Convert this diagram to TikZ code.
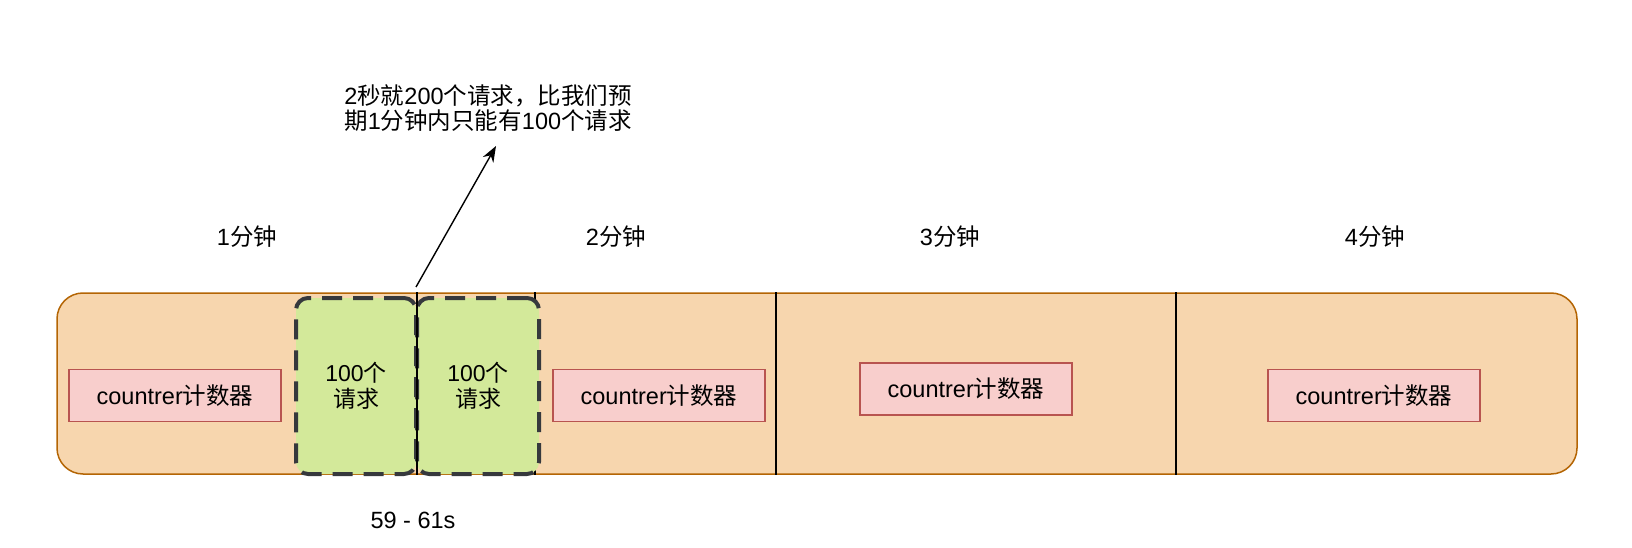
\documentclass[tikz,border=0pt]{standalone}
\usepackage{fontspec}
\setmainfont{Liberation Sans}
\newfontfamily\cjk{Noto Sans CJK SC}
\usetikzlibrary{arrows.meta}
\definecolor{bigfill}{HTML}{F7D6AE}
\definecolor{bigline}{HTML}{B46504}
\definecolor{cntfill}{HTML}{F8CECC}
\definecolor{cntline}{HTML}{B85450}
\definecolor{grnfill}{HTML}{D3E99A}
\definecolor{grnline}{HTML}{36393D}
\tikzset{
  bigbox/.style={draw=bigline, fill=bigfill, line width=1.5pt, rounded corners=26pt, minimum width=1520pt, minimum height=181pt, inner sep=0pt},
  cntbox/.style={draw=cntline, fill=cntfill, line width=1.3pt, minimum width=212pt, minimum height=52pt, inner sep=0pt, font=\fontsize{23.5pt}{27pt}\selectfont},
  reqbox/.style={draw=grnline, fill=grnfill, line width=4pt, dash pattern=on 20pt off 11pt, rounded corners=12pt, minimum height=176pt, inner sep=0pt, align=center, font=\fontsize{23pt}{26pt}\selectfont},
  divider/.style={draw=black, line width=1.3pt},
  lbl/.style={inner sep=0pt, align=center, font=\fontsize{23.5pt}{25pt}\selectfont},
}
\begin{document}
\begin{tikzpicture}[x=1pt,y=-1pt]
\useasboundingbox (0,0) rectangle (1632,548);
\node[bigbox] (main) at (817,383.5) {};
\draw[divider] (776,0 |- main.north) -- (776,0 |- main.south);
\draw[divider] (1176,0 |- main.north) -- (1176,0 |- main.south);
\draw[divider] (535,0 |- main.north) -- (535,0 |- main.south);
\node[reqbox, minimum width=120pt] (g1) at (356,386) {100{\cjk 个}\\{\cjk 请求}};
\node[reqbox, minimum width=122pt] (g2) at (478,386) {100{\cjk 个}\\{\cjk 请求}};
\draw[divider] (417,0 |- main.north) -- (417,0 |- main.south);
\node[cntbox] (c1) at (175,395.5) {countrer{\cjk 计数器}};
\node[cntbox] (c2) at (659,395.5) {countrer{\cjk 计数器}};
\node[cntbox] (c3) at (966,389) {countrer{\cjk 计数器}};
\node[cntbox] (c4) at (1374,395.5) {countrer{\cjk 计数器}};
\node[lbl] (m1) at (247,237) {1{\cjk 分钟}};
\node[lbl] (m2) at (616,237) {2{\cjk 分钟}};
\node[lbl] (m3) at (950,237) {3{\cjk 分钟}};
\node[lbl] (m4) at (1375,237) {4{\cjk 分钟}};
\node[lbl] (note) at (488,108) {2{\cjk 秒就}200{\cjk 个请求，比我们预}\\{\cjk 期}1{\cjk 分钟内只能有}100{\cjk 个请求}};
\node[lbl] (range) at (413,520) {59 - 61s};
\coordinate (arrS) at (416,287);
\coordinate (arrE) at (496,146);
\draw[line width=1.4pt, -{Stealth[length=16pt,width=12pt]}] (arrS) -- (arrE);
\end{tikzpicture}
\end{document}
